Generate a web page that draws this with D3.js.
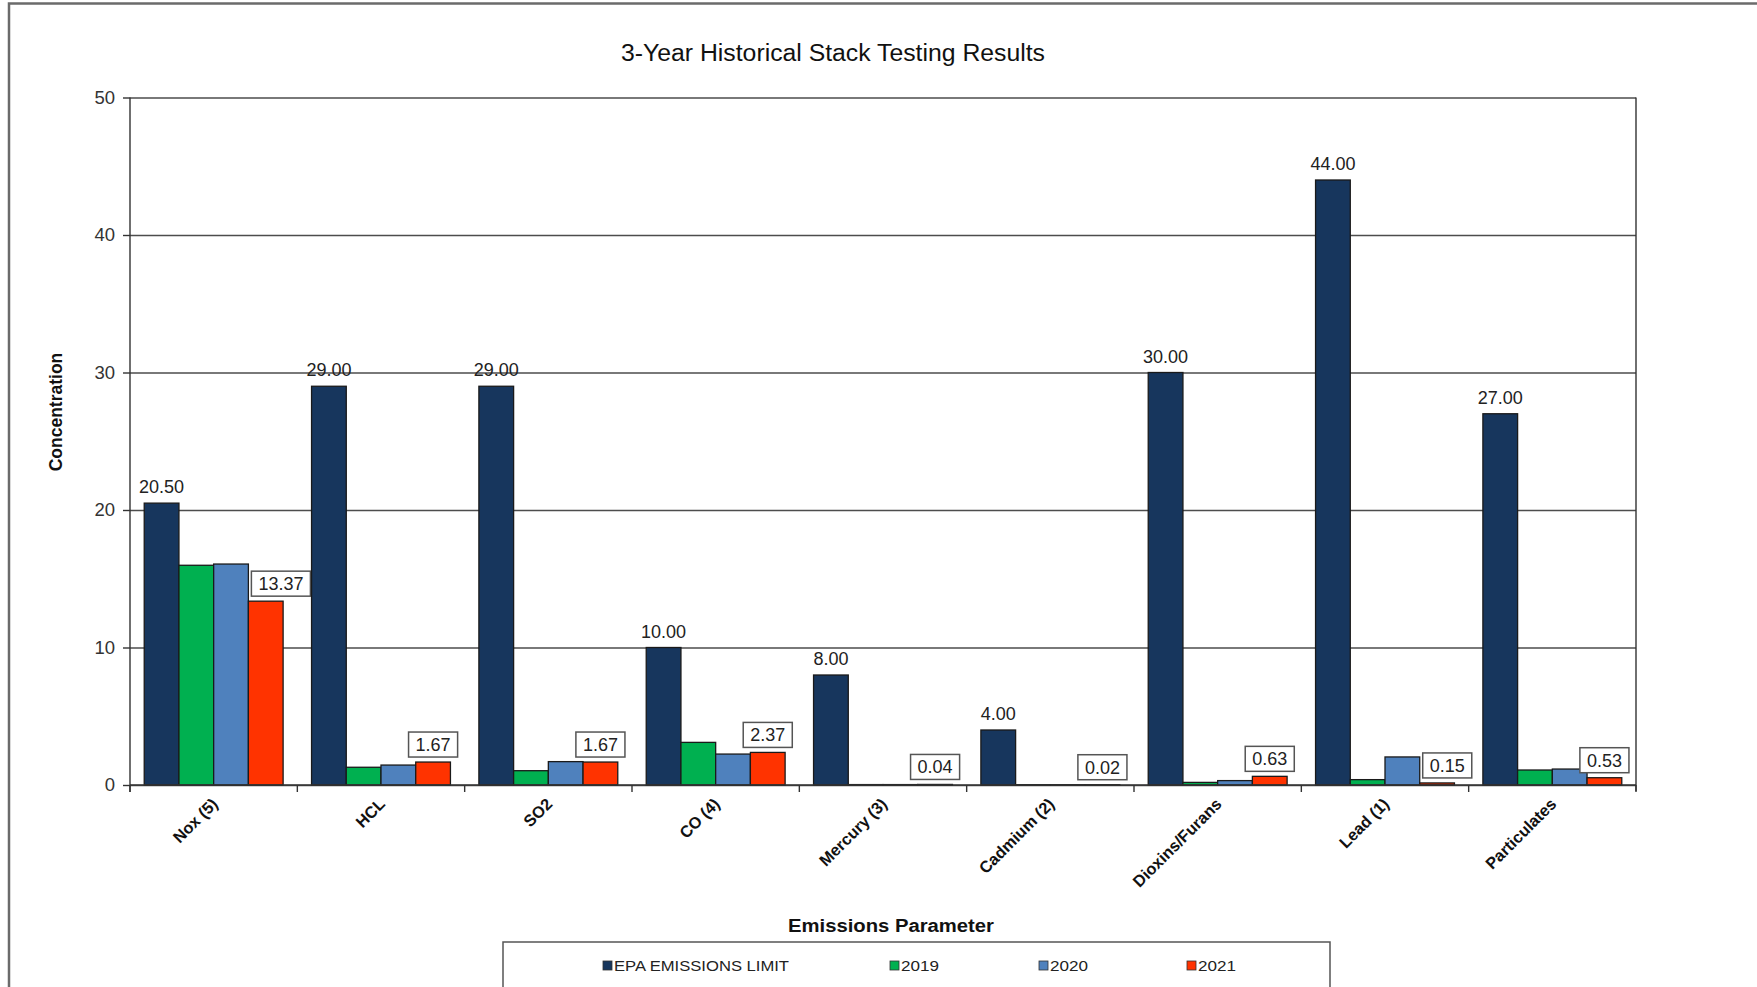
<!DOCTYPE html>
<html>
<head>
<meta charset="utf-8">
<script src="https://cdn.jsdelivr.net/npm/d3@7"></script>
<style>
html,body{margin:0;padding:0;background:#fff;}
svg{display:block;font-family:"Liberation Sans",Arial,sans-serif;}
</style>
</head>
<body>
<svg id="chart" width="1757" height="987"></svg>
<script>
const categories = ["Nox (5)","HCL","SO2","CO (4)","Mercury (3)","Cadmium (2)","Dioxins/Furans","Lead (1)","Particulates"];
const seriesNames = ["EPA EMISSIONS LIMIT","2019","2020","2021"];
const epaLimit = [20.5,29,29,10,8,4,30,44,27];
const y2019 = [15.98,1.29,1.04,3.10,0.03,0.02,0.19,0.39,1.09];
const y2020 = [16.07,1.45,1.70,2.25,0.03,0.02,0.32,2.04,1.16];
const y2021 = [13.37,1.67,1.67,2.37,0.04,0.02,0.63,0.15,0.53];
const yTicks = [0,10,20,30,40,50];
const colors = ["#17365d","#00b050","#4f81bd","#ff3300"];

const series = [epaLimit,y2019,y2020,y2021];
const svg = d3.select("#chart");
const W = 1757, H = 987;
const L = 130, R = 1636, T = 97.5, B = 785;

// outer chart border
svg.append("path").attr("d",`M9,${H+5}V3.5H${W+5}`).attr("fill","none").attr("stroke","#6b6b6b").attr("stroke-width",2.5);

// title
svg.append("text").attr("x",833).attr("y",61).attr("text-anchor","middle")
  .attr("font-size",23).attr("fill","#111")
  .attr("textLength",424).attr("lengthAdjust","spacingAndGlyphs")
  .text("3-Year Historical Stack Testing Results");

const x0 = d3.scaleBand().domain(categories).range([L,R]).paddingInner(0.17).paddingOuter(0.085);
const x1 = d3.scaleBand().domain(seriesNames).range([0,x0.bandwidth()]).padding(0);
const y = d3.scaleLinear().domain([0,50]).range([B,T]);

// gridlines
const grid = svg.append("g").attr("transform",`translate(${L},0)`)
  .call(d3.axisLeft(y).tickValues(yTicks).tickSize(-(R-L)).tickFormat(""));
grid.select(".domain").remove();
grid.selectAll("line").attr("stroke","#4d4d4d").attr("stroke-width",1.4);

// right border
svg.append("line").attr("x1",R).attr("x2",R).attr("y1",T).attr("y2",B+6).attr("stroke","#333").attr("stroke-width",1.4);

// y axis
const yAxis = svg.append("g").attr("transform",`translate(${L},0)`)
  .call(d3.axisLeft(y).tickValues(yTicks).tickSize(7).tickPadding(8).tickFormat(d3.format("d")));
yAxis.select(".domain").attr("stroke","#333").attr("stroke-width",1.4).attr("d",`M0,${T}V${B+7}`);
yAxis.selectAll("line").attr("stroke","#333").attr("stroke-width",1.4);
yAxis.selectAll("text").attr("font-size",18.5).attr("fill","#333").attr("font-family","Liberation Sans, Arial, sans-serif");

// bars
const groups = svg.append("g").selectAll("g").data(categories).join("g")
  .attr("transform",d=>`translate(${x0(d)},0)`);
seriesNames.forEach((s,si)=>{
  groups.append("rect")
    .attr("x",x1(s)).attr("width",x1.bandwidth())
    .attr("y",(d,i)=>y(series[si][i])).attr("height",(d,i)=>B-y(series[si][i]))
    .attr("fill",colors[si]).attr("stroke","#1a1a1a").attr("stroke-width",1.3);
});

// x axis baseline & ticks
svg.append("line").attr("x1",L).attr("x2",R).attr("y1",B).attr("y2",B).attr("stroke","#333").attr("stroke-width",1.6);
const step = x0.step();
const bounds = d3.range(categories.length+1).map(i=>L+i*step);
svg.append("g").selectAll("line").data(bounds).join("line")
  .attr("x1",d=>d).attr("x2",d=>d).attr("y1",B).attr("y2",B+7).attr("stroke","#333").attr("stroke-width",1.4);

// x labels
svg.append("g").selectAll("text").data(categories).join("text")
  .attr("transform",d=>`translate(${x0(d)+x0.bandwidth()/2-3},${B+12}) rotate(-45)`)
  .attr("text-anchor","end").attr("dy","0.7em")
  .attr("font-size",16.3).attr("font-weight","bold").attr("fill","#111").text(d=>d);

// EPA labels
groups.append("text")
  .attr("x",x1(seriesNames[0])+x1.bandwidth()/2)
  .attr("y",(d,i)=>y(epaLimit[i])-10)
  .attr("text-anchor","middle").attr("font-size",18).attr("fill","#222")
  .text((d,i)=>epaLimit[i].toFixed(2));

// 2021 boxed labels
groups.each(function(d,i){
  const g = d3.select(this);
  const bw = x1.bandwidth();
  const redX = x1(seriesNames[3]);
  const blueTop = y(y2020[i]);
  const boxH = 25;
  const boxBottom = y(y2021[i]) - 5;
  const t = g.append("text").attr("font-size",18).attr("fill","#222").attr("text-anchor","middle")
    .text(y2021[i].toFixed(2));
  const tw = t.node().getComputedTextLength();
  const boxW = tw + 14;
  let cx = redX + bw/2;
  if (boxBottom - blueTop > 6) {
    const blueRight = x1(seriesNames[2]) + bw;
    cx = Math.max(cx, blueRight + 3 + boxW/2);
  }
  g.insert("rect","text:last-child")
    .attr("x",cx-boxW/2).attr("y",boxBottom-boxH).attr("width",boxW).attr("height",boxH)
    .attr("fill","#fff").attr("stroke","#555").attr("stroke-width",1.5);
  t.attr("x",cx).attr("y",boxBottom-6);
  t.raise();
});

// axis titles
svg.append("text").attr("transform","translate(62,412) rotate(-90)").attr("text-anchor","middle")
  .attr("font-size",17.5).attr("font-weight","bold").attr("fill","#111").text("Concentration");
svg.append("text").attr("x",891).attr("y",932).attr("text-anchor","middle")
  .attr("font-size",18).attr("font-weight","bold").attr("fill","#111")
  .attr("textLength",206).attr("lengthAdjust","spacingAndGlyphs")
  .text("Emissions  Parameter");

// legend
svg.append("rect").attr("x",503).attr("y",942).attr("width",827).attr("height",70)
  .attr("fill","#fff").attr("stroke","#555").attr("stroke-width",1.5);
const legX = [603,890,1039,1187];
const legLen = [175,38,38,38];
const leg = svg.append("g").selectAll("g").data(seriesNames).join("g")
  .attr("transform",(d,i)=>`translate(${legX[i]},966)`);
leg.append("rect").attr("x",0).attr("y",-5).attr("width",9).attr("height",9)
  .attr("fill",(d,i)=>colors[i]).attr("stroke","#333").attr("stroke-width",0.8);
leg.append("text").attr("x",11).attr("y",5).attr("font-size",15).attr("fill","#222")
  .attr("textLength",(d,i)=>legLen[i]).attr("lengthAdjust","spacingAndGlyphs").text(d=>d);
</script>
</body>
</html>
